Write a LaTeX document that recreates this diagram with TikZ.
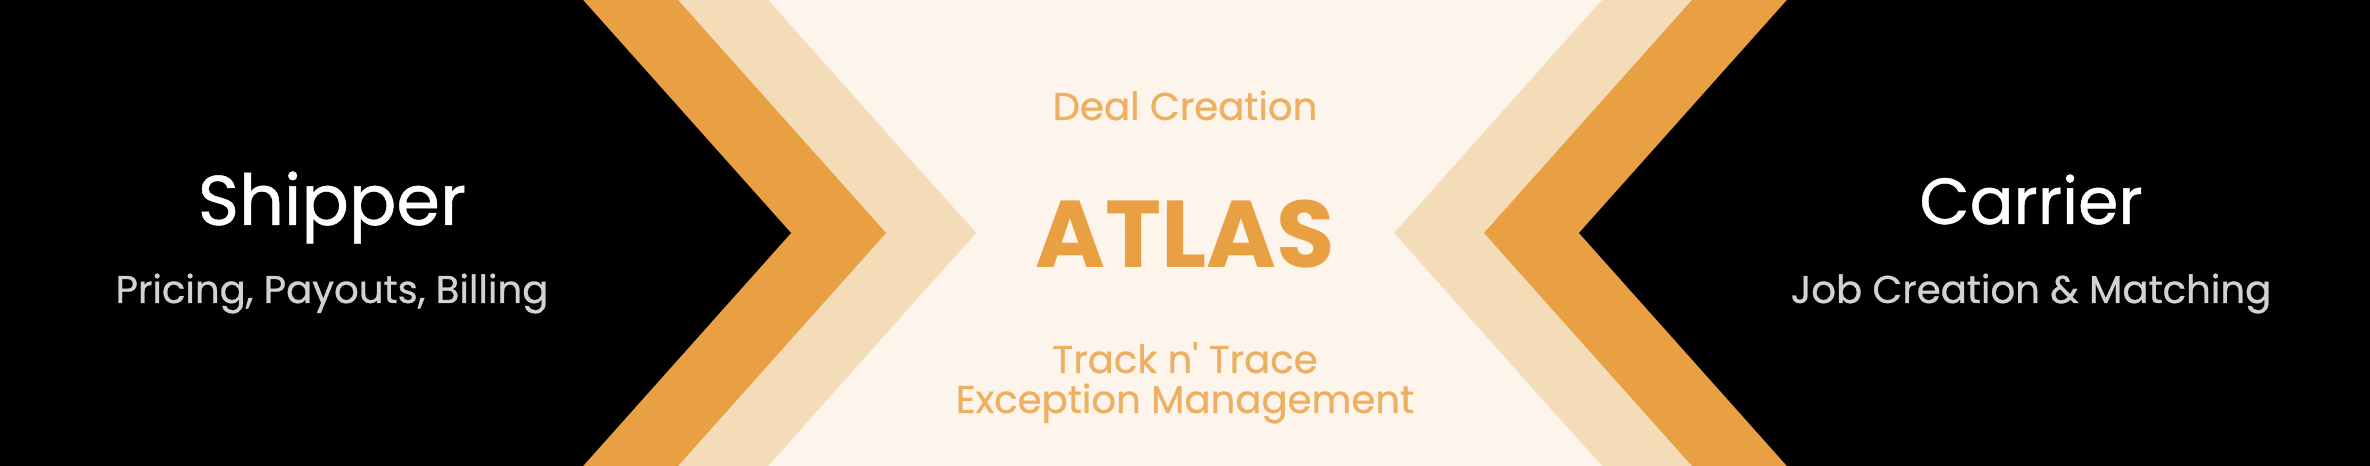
\documentclass[tikz,border=0pt]{standalone}
\usepackage{fontspec}
\setmainfont{Poppins}
\newfontfamily\medfont[FakeBold=0.7]{Poppins}
\definecolor{cream}{HTML}{FDF5EB}
\definecolor{peach}{HTML}{F5DCB8}
\definecolor{atlasorange}{HTML}{E8A043}
\definecolor{softorange}{HTML}{EDB063}
\definecolor{subgray}{HTML}{D2D2D2}

\begin{document}
\begin{tikzpicture}[every node/.style={inner sep=0pt, anchor=base},
    sidetitle/.style={text=white, font=\medfont\fontsize{20}{24}\selectfont},
    sidesub/.style={text=subgray, font=\medfont\fontsize{11}{13}\selectfont},
    midsub/.style={text=softorange, font=\medfont\fontsize{11}{11.4}\selectfont, align=center}]
    \fill[cream] (0,0) rectangle (23.70,4.66);

    % left chevrons
    \fill[peach] (0,0) -- (7.68,0) -- (9.76,2.33) -- (7.68,4.66) -- (0,4.66) -- cycle;
    \fill[atlasorange] (0,0) -- (6.78,0) -- (8.86,2.33) -- (6.78,4.66) -- (0,4.66) -- cycle;
    \fill[black] (0,0) -- (5.83,0) -- (7.91,2.33) -- (5.83,4.66) -- (0,4.66) -- cycle;

    % right chevrons
    \fill[peach] (23.70,0) -- (16.02,0) -- (13.94,2.33) -- (16.02,4.66) -- (23.70,4.66) -- cycle;
    \fill[atlasorange] (23.70,0) -- (16.92,0) -- (14.84,2.33) -- (16.92,4.66) -- (23.70,4.66) -- cycle;
    \fill[black] (23.70,0) -- (17.87,0) -- (15.79,2.33) -- (17.87,4.66) -- (23.70,4.66) -- cycle;

    \node[sidetitle] (shipper) at (3.32,2.41) {Shipper};
    \node[sidesub] (shippertasks) at (3.32,1.63) {Pricing, Payouts, Billing};

    \node[sidetitle, font=\medfont\fontsize{18.5}{22}\selectfont] (carrier) at (20.31,2.42) {Carrier};
    \node[sidesub] (carriertasks) at (20.31,1.63) {Job Creation \& Matching};

    \node[midsub] (deal) at (11.85,3.46) {Deal Creation};
    \node[text=atlasorange, font=\fontsize{27}{30}\selectfont\bfseries] (atlas) at (11.85,1.98) {ATLAS};
    \node[midsub] (trace) at (11.85,0.93) {Track n' Trace};
    \node[midsub] (exception) at (11.85,0.53) {Exception Management};
\end{tikzpicture}
\end{document}
